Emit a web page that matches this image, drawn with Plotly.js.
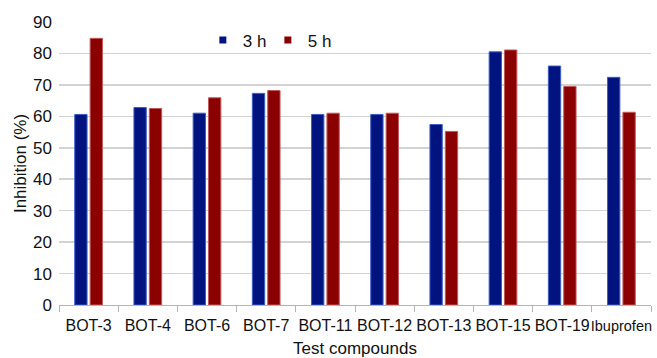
<!DOCTYPE html>
<html>
<head>
<meta charset="utf-8">
<script src="https://cdn.plot.ly/plotly-3.0.1.min.js"></script>
<style>
  html, body { margin: 0; padding: 0; background: #ffffff; }
  #chart { width: 657px; height: 358px; }
</style>
</head>
<body>
<div id="chart"></div>
<script>
// Anti-inflammatory activity: inhibition (%) at 3 h and 5 h per compound
const compounds = ['BOT-3', 'BOT-4', 'BOT-6', 'BOT-7', 'BOT-11', 'BOT-12', 'BOT-13', 'BOT-15', 'BOT-19', 'Ibuprofen'];
const inhibition3h = [60.6, 62.8, 61.0, 67.3, 60.6, 60.6, 57.4, 80.5, 76.0, 72.4];
const inhibition5h = [84.8, 62.5, 65.9, 68.2, 61.0, 61.0, 55.2, 81.1, 69.5, 61.3];
const seriesNames = ['3 h', '5 h'];
const yTicks = [0, 10, 20, 30, 40, 50, 60, 70, 80, 90];

const blue = '#00137f', blueEdge = '#3d5cc4';
const red = '#8b0000', redEdge = '#c05a5a';
const FONT = 'Liberation Sans, Arial, sans-serif';

// long category names get a smaller size so neighbouring labels don't collide
const xTickText = compounds.map(c => c.length > 7 ? '<span style="font-size:14.5px">' + c + '</span>' : c);

const traces = [
  {
    type: 'bar', x: compounds, y: inhibition3h, name: seriesNames[0],
    marker: { color: blue, line: { color: blueEdge, width: 1 } },
    showlegend: false, hoverinfo: 'x+y'
  },
  {
    type: 'bar', x: compounds, y: inhibition5h, name: seriesNames[1],
    marker: { color: red, line: { color: redEdge, width: 1 } },
    showlegend: false, hoverinfo: 'x+y'
  },
  // small square legend keys
  {
    type: 'scatter', mode: 'markers', x: [null], y: [null], name: seriesNames[0],
    marker: { symbol: 'square', size: 7, color: blue }, hoverinfo: 'skip'
  },
  {
    type: 'scatter', mode: 'markers', x: [null], y: [null], name: seriesNames[1],
    marker: { symbol: 'square', size: 7, color: red }, hoverinfo: 'skip'
  }
];

const layout = {
  width: 657, height: 358,
  margin: { l: 59, r: 6, t: 22, b: 53, pad: 0 },
  paper_bgcolor: '#ffffff', plot_bgcolor: '#ffffff',
  font: { family: FONT, size: 16, color: '#111111' },
  barmode: 'group', bargap: 0.48, bargroupgap: 0.2,
  showlegend: true,
  legend: {
    orientation: 'h', x: 0.243, y: 0.935, xanchor: 'left', yanchor: 'middle',
    font: { family: FONT, size: 17, color: '#111111' },
    bgcolor: 'rgba(0,0,0,0)', itemwidth: 30, traceorder: 'normal',
    entrywidth: 20, entrywidthmode: 'pixels'
  },
  xaxis: {
    type: 'category',
    tickvals: compounds, ticktext: xTickText,
    showline: true, linecolor: '#b5b5b5', linewidth: 1,
    ticks: 'outside', tickson: 'boundaries', ticklen: 6, tickcolor: '#b5b5b5', tickwidth: 1,
    tickangle: 0,
    tickfont: { family: FONT, size: 16, color: '#111111' },
    ticklabelstandoff: 6,
    showgrid: false, zeroline: false,
    title: { text: 'Test compounds', font: { family: FONT, size: 17, color: '#111111' }, standoff: 8 },
    automargin: false, fixedrange: true
  },
  yaxis: {
    range: [0, 90], tickvals: yTicks, ticktext: yTicks.map(String),
    showline: false, ticks: '', zeroline: false,
    showgrid: true, gridcolor: '#d3d3d3', gridwidth: 1.5,
    tickfont: { family: FONT, size: 17, color: '#111111' },
    ticklabelstandoff: 6,
    title: { text: 'Inhibition (%)', font: { family: FONT, size: 17, color: '#111111' }, standoff: 2 },
    automargin: false, fixedrange: true
  }
};

Plotly.newPlot('chart', traces, layout, { displayModeBar: false, staticPlot: true });
</script>
</body>
</html>
